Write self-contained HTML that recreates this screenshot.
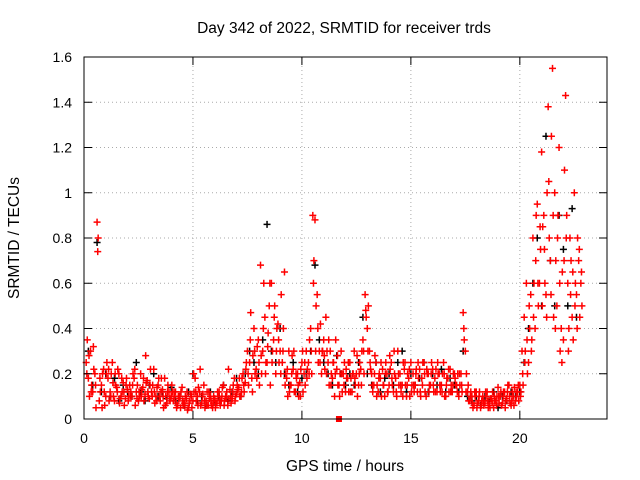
<!DOCTYPE html>
<html><head><meta charset="utf-8"><style>
body{margin:0;background:#fff}
svg{display:block;font-family:"Liberation Sans",sans-serif}
</style></head><body>
<svg id="chart" width="640" height="480" viewBox="0 0 640 480">
<rect width="640" height="480" fill="#fff"/>
<g id="grid"></g><g id="marks"></g><g id="ticks"></g>
<rect x="84" y="57" width="523" height="362" fill="none" stroke="#000" stroke-width="1"/>
<text x="344" y="33" text-anchor="middle" font-size="15.5">Day 342 of 2022, SRMTID for receiver trds</text>
<text x="345" y="471" text-anchor="middle" font-size="15.5">GPS time / hours</text>
<text transform="translate(19,238) rotate(-90)" text-anchor="middle" font-size="15.5">SRMTID / TECUs</text>
</svg>
<script>
const xTicks=[0,5,10,15,20];
const yTicks=[0,0.2,0.4,0.6,0.8,1,1.2,1.4,1.6];
const yTickLabels=["0","0.2","0.4","0.6","0.8","1","1.2","1.4","1.6"];
const hours=[];for(let i=1;i<=228;i++)hours.push(+(i*0.1).toFixed(1));
const redA=[.25,.18,.3,.12,.2,.87,.08,.15,.22,.1,
.18,.12,.25,.08,.14,.2,.1,.16,.09,.13,
.15,.1,.18,.12,.08,.2,.14,.11,.17,.09,
.12,.22,.1,.15,.08,.13,.18,.07,.12,.1,
.08,.12,.06,.1,.14,.07,.09,.05,.11,.08,
.18,.1,.12,.07,.15,.08,.06,.1,.05,.09,
.07,.12,.08,.15,.1,.06,.13,.09,.18,.11,
.14,.1,.2,.16,.3,.25,.18,.4,.22,.35,
.68,.3,.45,.25,.5,.6,.35,.2,.42,.3,
.25,.65,.18,.3,.15,.22,.12,.2,.16,.25,
.2,.3,.25,.4,.9,.88,.55,.3,.2,.35,
.45,.25,.3,.18,.1,.22,.15,.3,.2,.12,
.18,.25,.12,.3,.2,.15,.22,.35,.55,.4,
.3,.2,.15,.25,.12,.18,.22,.1,.2,.15,
.25,.12,.18,.3,.2,.15,.22,.1,.18,.25,
.2,.15,.12,.22,.18,.25,.1,.2,.15,.22,
.18,.12,.2,.15,.25,.1,.18,.22,.12,.2,
.15,.1,.2,.47,.3,.12,.08,.1,.06,.12,
.08,.05,.1,.07,.12,.06,.09,.05,.08,.14,
.1,.07,.12,.09,.15,.06,.1,.08,.12,.15,
.3,.45,.6,.25,.55,.8,.4,.95,.6,1.18,
.9,.55,1.38,.7,1.55,1.0,.5,1.2,.4,.35,
1.43,.6,.8,.45,1.0,.55,.7,.6];
const redB=[.35,.1,.15,.22,.05,.8,.12,.2,.06,.25,
.08,.2,.1,.15,.22,.09,.12,.06,.18,.1,
.12,.2,.06,.15,.1,.13,.08,.16,.1,.22,
.15,.07,.14,.1,.18,.05,.1,.15,.08,.12,
.1,.05,.09,.12,.06,.1,.04,.08,.05,.12,
.08,.14,.06,.11,.05,.12,.09,.06,.1,.07,
.1,.06,.14,.08,.12,.09,.07,.15,.1,.13,
.1,.18,.12,.25,.15,.47,.28,.2,.32,.15,
.2,.6,.25,.38,.15,.3,.5,.4,.25,.55,
.4,.2,.1,.15,.28,.12,.18,.1,.22,.12,
.15,.22,.35,.2,.7,.5,.25,.42,.3,.22,
.3,.15,.2,.25,.35,.15,.2,.12,.25,.18,
.12,.18,.2,.15,.1,.25,.3,.2,.45,.5,
.22,.12,.28,.15,.2,.1,.15,.25,.12,.22,
.15,.2,.1,.15,.12,.25,.15,.2,.1,.15,
.12,.22,.18,.1,.25,.12,.2,.15,.25,.12,
.22,.2,.12,.2,.1,.18,.12,.15,.2,.15,
.2,.15,.12,.35,.2,.08,.12,.05,.1,.07,
.12,.08,.06,.1,.05,.09,.12,.08,.1,.07,
.06,.12,.08,.15,.07,.12,.14,.1,.08,.12,
.15,.3,.2,.4,.35,.6,.9,.5,.75,.85,
.6,1.0,.8,1.25,.45,.7,.9,.3,.65,1.1,
.9,.4,.7,.35,.6,.8,.45,.5];
const redC=[.2,.28,.12,.32,.15,.74,.18,.05,.12,.2,
.22,.1,.16,.2,.12,.07,.18,.12,.15,.08,
.1,.15,.22,.09,.12,.1,.18,.28,.12,.15,
.1,.12,.08,.18,.12,.1,.06,.12,.09,.15,
.12,.07,.1,.05,.08,.06,.12,.07,.1,.2,
.12,.06,.22,.1,.08,.06,.12,.08,.07,.05,
.12,.08,.1,.06,.09,.22,.1,.12,.08,.15,
.18,.12,.15,.22,.2,.35,.12,.3,.18,.25,
.28,.4,.2,.32,.6,.25,.45,.3,.35,.2,
.3,.15,.22,.12,.2,.3,.2,.15,.1,.3,
.25,.18,.2,.3,.6,.3,.4,.25,.3,.28,
.2,.35,.15,.25,.2,.28,.1,.2,.15,.22,
.25,.12,.2,.18,.28,.2,.15,.3,.48,.3,
.25,.15,.2,.1,.18,.25,.15,.2,.12,.28,
.18,.3,.12,.2,.15,.1,.25,.15,.22,.12,
.15,.2,.25,.12,.15,.2,.22,.12,.2,.15,
.12,.25,.15,.12,.2,.15,.22,.12,.15,.18,
.12,.2,.15,.4,.12,.15,.1,.07,.12,.05,
.1,.06,.08,.12,.08,.05,.07,.1,.06,.1,
.12,.1,.05,.12,.1,.08,.06,.12,.15,.1,
.2,.25,.35,.5,.3,.45,.7,.6,.85,.5,
.75,.45,1.05,.55,.9,.4,.8,.6,.25,.7,
.8,.3,.55,.65,.5,.4,.75,.65];
const blackV=[.3,.15,.78,.12,.2,.1,.18,.08,.15,.12,
.1,.25,.12,.08,.15,.2,.1,.12,.09,.14,
.08,.1,.06,.12,.2,.08,.1,.06,.12,.08,
.1,.15,.08,.12,.18,.1,.2,.3,.25,.2,
.35,.86,.3,.25,.4,.2,.15,.25,.12,.18,
.2,.3,.68,.35,.25,.2,.15,.28,.2,.15,
.2,.15,.25,.45,.2,.15,.25,.12,.18,.2,
.15,.25,.3,.12,.2,.15,.18,.25,.12,.2,
.15,.22,.12,.18,.15,.12,.3,.1,.08,.1,
.06,.1,.08,.12,.05,.1,.08,.12,.1,.12,
.25,.4,.6,.8,.5,1.25,.7,.5,.9,.75,
.5,.93,.45];
const squareT=[11.7], squareV=[0];

const X0=84,X1=607,Y0=419,Y1=57,XMAX=24,YMAX=1.6;
const sx=v=>X0+v/XMAX*(X1-X0);
const sy=v=>Y0-v/YMAX*(Y0-Y1);
const NS="http://www.w3.org/2000/svg";
function mk(tag,attrs,parent){const e=document.createElementNS(NS,tag);for(const k in attrs)e.setAttribute(k,attrs[k]);parent.appendChild(e);return e;}
const grid=document.getElementById('grid'),ticks=document.getElementById('ticks'),marks=document.getElementById('marks');
xTicks.forEach((t,i)=>{
  const x=sx(t);
  if(t>0){const g=mk('line',{x1:x,x2:x,y1:Y0,y2:Y1,stroke:'#aaa','stroke-dasharray':'1,3'},grid);
  
  }
  mk('path',{d:`M${x},${Y0}v-8M${x},${Y1}v8`,stroke:'#000'},ticks);
  const l=mk('text',{x:x,y:Y0+24,'text-anchor':'middle','font-size':14},ticks);l.textContent=String(t);
  
  
});
yTicks.forEach((t,i)=>{
  const y=sy(t);
  if(t>0){const g=mk('line',{x1:X0,x2:X1,y1:y,y2:y,stroke:'#aaa','stroke-dasharray':'1,3'},grid);
  
  }
  mk('path',{d:`M${X0},${y}h8M${X1},${y}h-8`,stroke:'#000'},ticks);
  const l=mk('text',{x:X0-12,y:y+5,'text-anchor':'end','font-size':14},ticks);l.textContent=yTickLabels[i];
  
  
});
function plus(t,v,col,name){
  const x=sx(t),y=sy(v);
  const p=mk('path',{d:`M${x-3.5},${y}h7M${x},${y-3.5}v7`,stroke:col,'stroke-width':1.5,fill:'none'},marks);
  
  
}
blackV.forEach((v,i)=>{if(hours[2*i+1]!==undefined)plus(hours[2*i+1],v,'#000','black-point');});
redA.forEach((v,i)=>plus(hours[i],v,'#f00','red-point'));
redB.forEach((v,i)=>plus(hours[i]+0.05,v,'#f00','red-point'));
redC.forEach((v,i)=>plus(hours[i]+0.03,v,'#f00','red-point'));
squareT.forEach((t,i)=>{
  const r=mk('rect',{x:sx(t)-3,y:sy(squareV[i])-3,width:6,height:6,fill:'#f00'},marks);
  
  
});
</script>
</body></html>
